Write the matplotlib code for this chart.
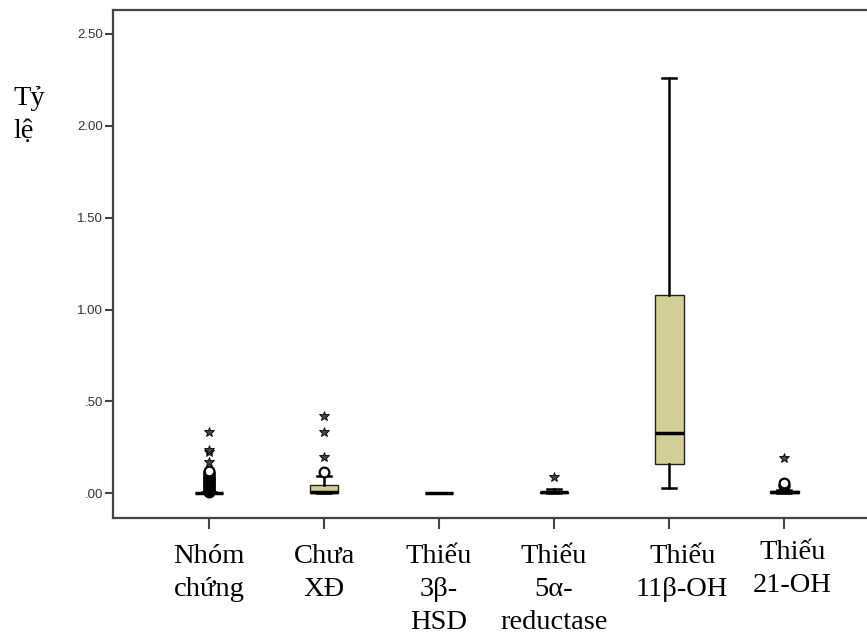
import matplotlib
matplotlib.use("Agg")
import matplotlib.pyplot as plt
from matplotlib.transforms import ScaledTranslation

# groups along the x axis
groups = ["Nhóm\nchứng", "Chưa\nXĐ", "Thiếu\n3β-\nHSD", "Thiếu\n5α-\nreductase",
          "Thiếu\n11β-OH", "Thiếu\n21-OH"]

# box statistics per group
q1 = [0.000, 0.004, 0.000, 0.003, 0.162, 0.003]
med = [0.001, 0.010, 0.000, 0.006, 0.330, 0.006]
q3 = [0.004, 0.044, 0.001, 0.010, 1.080, 0.011]
whis_lo = [0.000, 0.000, 0.000, 0.000, 0.031, 0.000]
whis_hi = [0.008, 0.093, 0.001, 0.022, 2.260, 0.020]

# outliers (circles) and extremes (stars)
circles = [
    [0.010, 0.014, 0.018, 0.022, 0.026, 0.030, 0.034, 0.038, 0.042, 0.046,
     0.050, 0.054, 0.058, 0.062, 0.066, 0.070, 0.074, 0.078, 0.082, 0.086,
     0.090, 0.095, 0.100, 0.106, 0.112, 0.118, 0.124],
    [0.116],
    [],
    [],
    [],
    [0.040, 0.048, 0.055],
]
stars = [
    [0.170, 0.224, 0.235, 0.333],
    [0.198, 0.335, 0.420],
    [],
    [0.087],
    [],
    [0.190],
]

box_color = "#d3ce98"

fig = plt.figure(figsize=(8.67, 6.41), dpi=100)
ax = fig.add_axes([0.1303, 0.1919, 0.8697, 0.7925])

stats = []
for i, g in enumerate(groups):
    stats.append(dict(label=g, q1=q1[i], med=med[i], q3=q3[i],
                      whislo=whis_lo[i], whishi=whis_hi[i], fliers=[]))

pos = list(range(1, len(groups) + 1))
ax.bxp(stats, positions=pos, widths=0.25, patch_artist=True,
       boxprops=dict(facecolor=box_color, edgecolor="#222222", linewidth=1.0),
       medianprops=dict(color="black", linewidth=2.5),
       whiskerprops=dict(color="black", linewidth=1.8),
       capprops=dict(color="black", linewidth=1.8),
       capwidths=0.125)

for p, c, s in zip(pos, circles, stars):
    if c:
        ax.plot([p] * len(c), c, "o", ms=7, mfc="white", mec="black", mew=1.6)
    if s:
        ax.plot([p] * len(s), s, "*", ms=7.5, mfc="#444444", mec="black",
                mew=0.6)

ax.set_xlim(0.165, 6.72)
ax.set_ylim(-0.134, 2.63)
ax.set_yticks([0, 0.5, 1.0, 1.5, 2.0, 2.5])
ax.set_yticklabels([".00", ".50", "1.00", "1.50", "2.00", "2.50"],
                   fontsize=9.5, family="Liberation Sans", color="#333333")
ax.set_xticks(pos)
ax.set_xticklabels(groups, fontsize=20.5, family="Liberation Serif",
                   linespacing=1.4, va="top")
ax.tick_params(axis="y", length=6, width=1.5, color="#444444", pad=1)
ax.tick_params(axis="x", length=8, width=1.5, color="#444444", pad=11)

# the last two labels sit a little right of their ticks
nudges = {4: (0.13, 0.0), 5: (0.08, 0.04)}
for i, lab in enumerate(ax.get_xticklabels()):
    if i in nudges:
        dx, dy = nudges[i]
        lab.set_transform(lab.get_transform() +
                          ScaledTranslation(dx, dy, fig.dpi_scale_trans))

for side in ["left", "top", "bottom"]:
    ax.spines[side].set_color("#444444")
    ax.spines[side].set_linewidth(1.6)
ax.spines["right"].set_visible(False)

fig.text(0.016, 0.866, "Tỷ\nlệ", fontsize=20.5, family="Liberation Serif",
         va="top", ha="left", linespacing=1.42)

fig.savefig("out.png", dpi=100)
